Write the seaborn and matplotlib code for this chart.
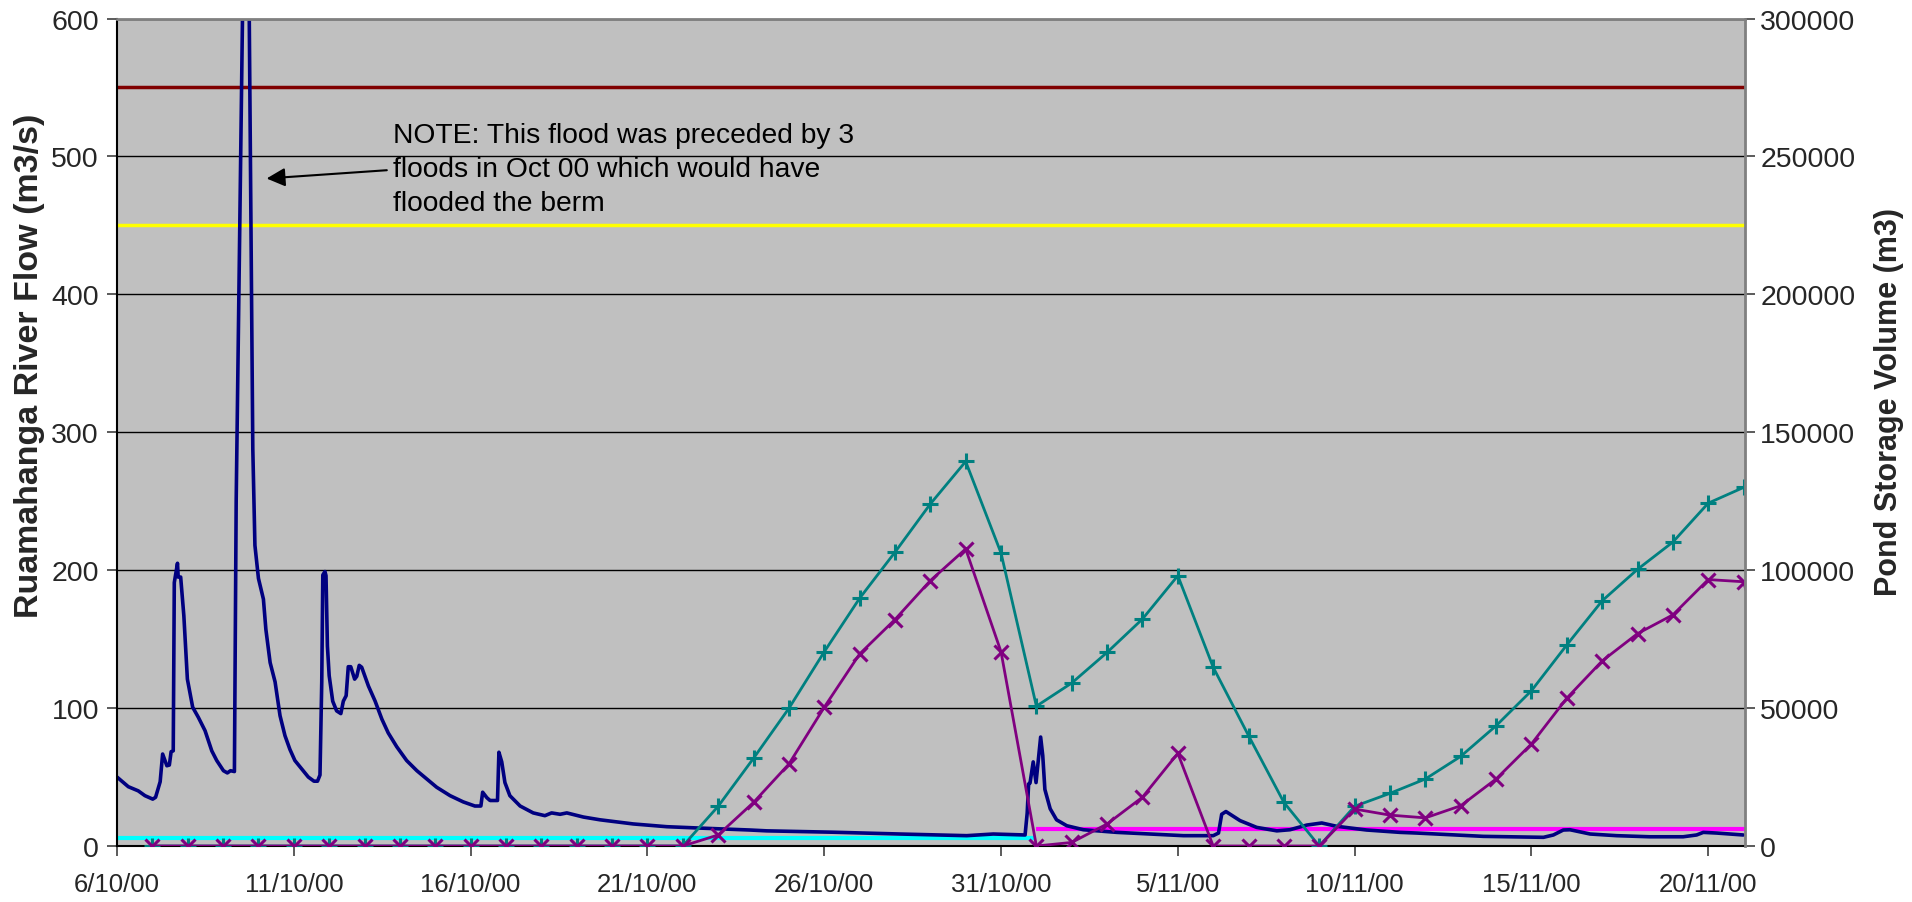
import matplotlib
matplotlib.use('Agg')
import matplotlib.pyplot as plt
import numpy as np
import pandas as pd
import seaborn as sns

start = pd.Timestamp('2000-10-06')

# river flow (m3/s), time given as days after 6/10/00
flow_day = [0.00, 0.32, 0.60, 0.79, 1.01, 1.09, 1.22, 1.29, 1.41, 1.48, 1.53, 1.59,
            1.62, 1.71, 1.73, 1.80, 1.89, 1.99, 2.14, 2.30, 2.49, 2.68, 2.82, 3.01,
            3.12, 3.21, 3.32, 3.37, 3.66, 3.74, 3.84, 3.90, 4.00, 4.14, 4.21, 4.33,
            4.47, 4.61, 4.75, 4.89, 5.03, 5.22, 5.41, 5.57, 5.67, 5.74, 5.79, 5.82,
            5.88, 5.91, 5.95, 6.00, 6.10, 6.21, 6.33, 6.40, 6.48, 6.54, 6.61, 6.72,
            6.78, 6.85, 6.92, 7.11, 7.30, 7.49, 7.67, 7.91, 8.19, 8.48, 8.76, 9.04,
            9.42, 9.79, 10.12, 10.29, 10.34, 10.46, 10.55, 10.76, 10.80, 10.88, 10.97,
            11.11, 11.40, 11.77, 12.10, 12.29, 12.53, 12.72, 13.19, 13.66, 14.60,
            15.55, 16.49, 17.90, 18.37, 20.26, 22.14, 24.03, 24.78, 25.68, 25.74,
            25.78, 25.82, 25.91, 25.99, 26.06, 26.12, 26.18, 26.24, 26.39, 26.57,
            26.86, 27.33, 28.27, 29.21, 30.16, 31.00, 31.15, 31.24, 31.36, 31.76,
            32.23, 32.80, 33.17, 33.65, 34.07, 34.49, 35.34, 36.28, 36.76, 38.64,
            40.34, 40.62, 40.90, 41.09, 41.66, 42.41, 43.35, 44.29, 44.67, 44.86,
            45.24, 45.99]
flow_value = [50, 43, 40, 36.5, 34, 35.3, 46.6, 66.7, 58.2, 58.7, 68.4, 69,
              191, 205, 195, 195, 167, 121, 100.6, 93.3, 83.6, 69, 62, 54.6,
              53, 54.6, 54, 250, 820, 600, 288, 218, 194, 179, 157, 133,
              119, 94.5, 80, 70, 62, 56, 50, 47, 47, 51.5, 119, 196.5,
              199, 196, 145, 123.5, 105, 98, 96, 105, 109, 130, 130, 121,
              123, 131, 129.6, 116, 105, 92, 82, 72, 62, 54.6, 48.6, 42.6,
              36.5, 32, 29, 29, 39, 35, 33, 33, 68, 61, 46,
              36.5, 29, 24, 22, 24, 23, 24, 21, 19, 16,
              14, 13, 11.6, 11, 10, 8.7, 7.5, 8.7, 8, 24,
              45, 45.7, 61, 46, 64, 79, 65.5, 41, 27, 19,
              14.7, 11.8, 9.9, 8.7, 7.5, 7.5, 9.4, 23, 25, 18.4,
              13.5, 11, 11.8, 15.2, 16.7, 14.3, 11.6, 9.9, 9.4, 7,
              6.3, 8, 11.6, 11.8, 8.7, 7.5, 6.7, 6.7, 8, 9.9,
              9.4, 8]

# pond storage volume (m3), daily from 7/10/00
pond_volume_a = [0, 0, 0, 0, 0, 0, 0, 0, 0, 0, 0, 0, 0, 0, 0, 0,
                 14400, 31800, 49900, 70400, 89800, 106500, 124000, 139400,
                 106200, 50700, 59100, 70200, 82300, 98000, 64800, 40000,
                 15800, 0, 14400, 19100, 24300, 32500, 43600, 56300, 72900,
                 88900, 100300, 110200, 124300, 130000]
pond_volume_b = [0, 0, 0, 0, 0, 0, 0, 0, 0, 0, 0, 0, 0, 0, 0, 0,
                 4000, 15800, 29700, 50300, 69600, 82100, 96200, 107700,
                 70400, 0, 1300, 8000, 17700, 33600, 0, 0,
                 0, 0, 13400, 11200, 10200, 14600, 24300, 37000, 53600,
                 67100, 77000, 83800, 96600, 95800, 51000]

# reference levels (m3/s)
berm_flood_level = 550
warning_level = 450
low_level = 5.5
low_level_span = ['2000-10-06', '2000-11-01']
min_flow = 12.5
min_flow_span = ['2000-11-01', '2000-11-21 01:00']

tick_dates = pd.date_range('2000-10-06', '2000-11-20', freq='5D')

flow_df = pd.DataFrame({
    'time': start + pd.to_timedelta(flow_day, unit='D'),
    'flow': flow_value,
})
pond_a = pd.DataFrame({
    'date': pd.date_range('2000-10-07', periods=len(pond_volume_a), freq='D'),
    'volume': pond_volume_a,
})
pond_b = pd.DataFrame({
    'date': pd.date_range('2000-10-07', periods=len(pond_volume_b), freq='D'),
    'volume': pond_volume_b,
})

sns.set_theme(style='ticks')
plt.rcParams['font.family'] = ['Liberation Sans', 'DejaVu Sans']

fig, ax = plt.subplots(figsize=(19.12, 9.03), dpi=100)
fig.subplots_adjust(left=0.0612, right=0.9127, bottom=0.062, top=0.9784)
ax.set_facecolor('#C0C0C0')
ax2 = ax.twinx()

# grid
ax.set_yticks(np.arange(0, 601, 100))
ax.yaxis.grid(True, color='black', linewidth=1.0)
ax.set_axisbelow(True)

# reference lines
ax.axhline(berm_flood_level, color='#800000', linewidth=2.5)
ax.axhline(warning_level, color='#FFFF00', linewidth=2.5)
ax.hlines(low_level, pd.Timestamp(low_level_span[0]), pd.Timestamp(low_level_span[1]),
          color='#00FFFF', linewidth=3)
ax.hlines(min_flow, pd.Timestamp(min_flow_span[0]), pd.Timestamp(min_flow_span[1]),
          color='#FF00FF', linewidth=3)

sns.lineplot(data=flow_df, x='time', y='flow', ax=ax, color='#000080',
             linewidth=2.6, legend=False)

sns.lineplot(data=pond_a, x='date', y='volume', ax=ax2, color='#008080',
             linewidth=2, marker='+', markersize=12, markeredgewidth=2.2,
             markeredgecolor='#008080', legend=False)
sns.lineplot(data=pond_b, x='date', y='volume', ax=ax2, color='#800080',
             linewidth=2, marker='x', markersize=10, markeredgewidth=2.2,
             markeredgecolor='#800080', legend=False)

x_end = pd.Timestamp('2000-11-21 01:00')
ax.set_xlim(start, x_end)
ax.set_ylim(0, 600)
ax2.set_ylim(0, 300000)
ax2.set_yticks(np.arange(0, 300001, 50000))

ax.set_xticks(tick_dates)
ax.set_xticklabels([f'{d.day}/{d.month}/{d:%y}' for d in tick_dates])

ax.tick_params(axis='x', labelsize=18.5, length=7, width=1.2, pad=12, color='#404040')
ax.tick_params(axis='y', labelsize=20.5, length=7, width=1.2, pad=6, color='#404040')
ax2.tick_params(axis='y', labelsize=20.5, length=7, width=1.2, pad=4, color='#404040')

ax.set_xlabel('')
ax.set_ylabel('Ruamahanga River Flow (m3/s)', fontsize=24.5, fontweight='bold')
ax.yaxis.set_label_coords(-0.044, 0.581)
ax2.set_ylabel('Pond Storage Volume (m3)', fontsize=22, fontweight='bold')
ax2.yaxis.set_label_coords(1.079, 0.538)

for side in ['left', 'bottom']:
    ax.spines[side].set_color('black')
    ax.spines[side].set_linewidth(1.5)
ax.spines['top'].set_color('#808080')
ax.spines['top'].set_linewidth(2)
ax.spines['right'].set_visible(False)
for side in ['left', 'bottom', 'top']:
    ax2.spines[side].set_visible(False)
ax2.spines['right'].set_color('#808080')
ax2.spines['right'].set_linewidth(2)

# note with arrow
ax.text(start + pd.Timedelta(days=7.81), 525,
        'NOTE: This flood was preceded by 3\nfloods in Oct 00 which would have\nflooded the berm',
        fontsize=20.3, va='top', ha='left', linespacing=1.4, color='black')
ax.annotate('', xy=(start + pd.Timedelta(days=4.23), 484),
            xytext=(start + pd.Timedelta(days=7.63), 490),
            arrowprops=dict(arrowstyle='-|>', color='black', lw=1.5,
                            mutation_scale=28, shrinkA=0, shrinkB=0))

fig.savefig('out.png', dpi=100)
